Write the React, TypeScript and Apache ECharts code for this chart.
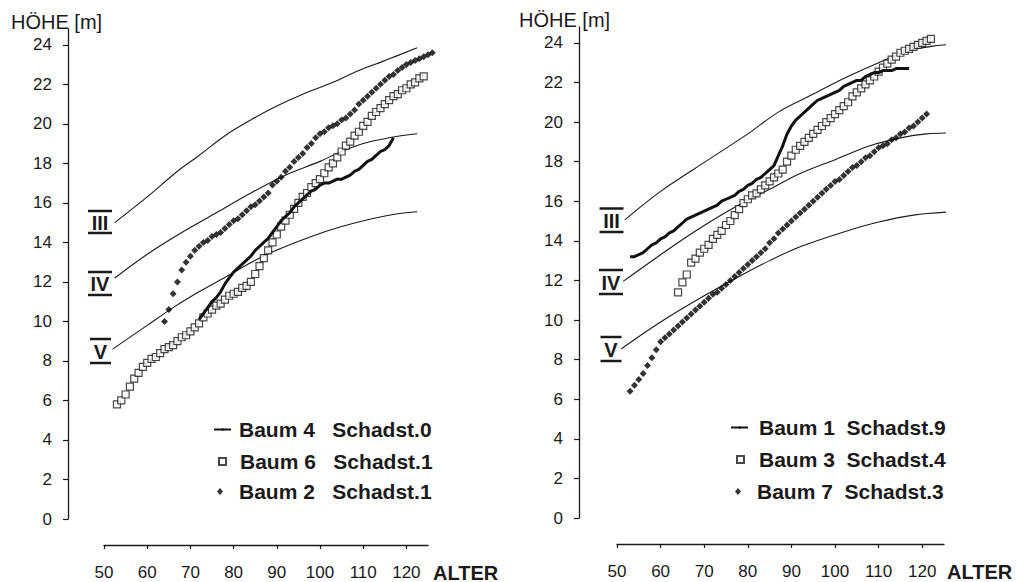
import React, { useEffect, useRef } from "react";
import * as echarts from "echarts";

// ---------- tick values ----------
const yTickValues = [0, 2, 4, 6, 8, 10, 12, 14, 16, 18, 20, 22, 24];
const xTickValues = [50, 60, 70, 80, 90, 100, 110, 120];

// ---------- left panel: site-index curves (age, height) ----------
const leftIII = [[52.5, 15.0], [60, 16.3], [67, 17.6], [72, 18.4], [78, 19.4], [84, 20.2], [90, 20.9], [96, 21.5], [103, 22.1], [109, 22.7], [115, 23.2], [122.5, 23.85]];
const leftIV = [[52.5, 12.2], [60, 13.4], [68, 14.5], [76, 15.5], [84, 16.5], [92, 17.4], [100, 18.1], [105, 18.6], [110, 19.0], [116, 19.3], [122.5, 19.5]];
const leftV = [[52, 8.6], [60, 9.8], [66, 10.7], [72, 11.5], [79, 12.35], [85, 13.1], [91, 13.7], [98, 14.3], [105, 14.8], [112, 15.2], [118, 15.45], [122.5, 15.55]];

// left panel trees: first age + yearly heights
const baum4Start = 72;
const baum4Heights = [10.1, 10.4, 10.7, 11.0, 11.2, 11.5, 11.9, 12.2, 12.5, 12.7, 12.9, 13.1, 13.3, 13.6, 13.8, 14.0, 14.2, 14.5, 14.8, 15.1, 15.3, 15.5, 15.8, 16.0, 16.2, 16.4, 16.6, 16.7, 16.9, 17.0, 17.0, 17.1, 17.2, 17.2, 17.3, 17.4, 17.6, 17.7, 17.9, 18.1, 18.2, 18.4, 18.6, 18.7, 18.9, 19.3];
const baum6Start = 53;
const baum6Heights = [5.8, 6.0, 6.3, 6.7, 7.1, 7.4, 7.7, 7.9, 8.1, 8.2, 8.4, 8.6, 8.7, 8.8, 9.0, 9.2, 9.3, 9.5, 9.7, 9.9, 10.2, 10.4, 10.6, 10.8, 10.9, 11.1, 11.3, 11.4, 11.5, 11.7, 11.8, 12.0, 12.4, 12.8, 13.2, 13.6, 14.0, 14.4, 14.8, 15.1, 15.4, 15.7, 16.0, 16.3, 16.5, 16.8, 17.0, 17.2, 17.5, 17.8, 18.0, 18.3, 18.6, 18.9, 19.1, 19.4, 19.6, 19.9, 20.1, 20.4, 20.6, 20.8, 21.0, 21.2, 21.4, 21.5, 21.7, 21.8, 22.0, 22.1, 22.3, 22.4];
const baum2Start = 64;
const baum2Heights = [10.0, 10.6, 11.4, 12.0, 12.6, 13.0, 13.3, 13.6, 13.8, 14.0, 14.1, 14.3, 14.4, 14.5, 14.7, 14.9, 15.1, 15.2, 15.4, 15.6, 15.8, 15.9, 16.1, 16.3, 16.5, 16.9, 17.1, 17.3, 17.6, 17.8, 18.1, 18.3, 18.5, 18.8, 19.0, 19.3, 19.5, 19.6, 19.8, 19.9, 20.0, 20.2, 20.3, 20.5, 20.7, 21.0, 21.2, 21.4, 21.6, 21.8, 22.0, 22.2, 22.4, 22.5, 22.7, 22.85, 23.0, 23.1, 23.2, 23.3, 23.4, 23.5, 23.6];

// ---------- right panel: site-index curves ----------
const rightIII = [[51.8, 15.06], [60, 16.5], [71, 18.1], [80, 19.4], [87, 20.5], [94, 21.3], [102, 22.2], [110, 23.0], [117, 23.6], [123, 23.85], [128.7, 23.95]];
const rightIV = [[51.4, 11.95], [60, 13.3], [68, 14.5], [77, 15.7], [85, 16.6], [92, 17.4], [100, 18.1], [108, 18.8], [115, 19.2], [121, 19.4], [127.5, 19.45]];
const rightV = [[51, 8.55], [60, 9.9], [69, 11.1], [78, 12.2], [85, 13.0], [92, 13.7], [102, 14.45], [110, 14.95], [118, 15.3], [126.4, 15.46]];

// right panel trees
const baum1Start = 53;
const baum1Heights = [13.2, 13.2, 13.3, 13.4, 13.6, 13.8, 13.9, 14.1, 14.2, 14.4, 14.5, 14.7, 14.9, 15.1, 15.2, 15.3, 15.4, 15.5, 15.6, 15.7, 15.8, 16.0, 16.1, 16.2, 16.3, 16.5, 16.6, 16.8, 16.9, 17.1, 17.2, 17.4, 17.6, 17.8, 18.3, 18.8, 19.4, 19.8, 20.1, 20.3, 20.5, 20.7, 20.9, 21.1, 21.2, 21.3, 21.4, 21.5, 21.6, 21.8, 21.9, 22.0, 22.1, 22.1, 22.3, 22.4, 22.5, 22.5, 22.6, 22.6, 22.6, 22.7, 22.7, 22.7, 22.7];
const baum3Start = 64;
const baum3Heights = [11.4, 11.9, 12.3, 12.9, 13.1, 13.4, 13.6, 13.8, 14.1, 14.3, 14.5, 14.8, 15.0, 15.3, 15.6, 15.9, 16.1, 16.3, 16.4, 16.6, 16.8, 17.0, 17.2, 17.4, 17.6, 18.0, 18.3, 18.6, 18.8, 19.0, 19.2, 19.4, 19.6, 19.8, 20.0, 20.2, 20.4, 20.6, 20.8, 21.0, 21.3, 21.5, 21.7, 21.9, 22.1, 22.3, 22.55, 22.75, 22.95, 23.15, 23.3, 23.5, 23.6, 23.7, 23.8, 23.9, 24.0, 24.1, 24.2];
const baum7Start = 53;
const baum7Heights = [6.4, 6.7, 7.0, 7.3, 7.7, 8.1, 8.5, 8.9, 9.1, 9.3, 9.5, 9.7, 9.9, 10.1, 10.3, 10.5, 10.7, 10.9, 11.1, 11.3, 11.4, 11.6, 11.8, 12.0, 12.2, 12.4, 12.6, 12.8, 13.0, 13.2, 13.4, 13.6, 13.9, 14.1, 14.4, 14.6, 14.8, 15.0, 15.2, 15.4, 15.6, 15.8, 16.0, 16.2, 16.4, 16.6, 16.8, 17.0, 17.1, 17.3, 17.5, 17.7, 17.8, 18.0, 18.2, 18.3, 18.5, 18.7, 18.8, 18.9, 19.1, 19.2, 19.4, 19.5, 19.7, 19.8, 20.0, 20.2, 20.4];

// legend names
const NB = "\u00a0";
const leftNames = [`Baum 4${NB}${NB}${NB}Schadst.0`, `Baum 6${NB}${NB}${NB}Schadst.1`, `Baum 2${NB}${NB}${NB}Schadst.1`];
const rightNames = [`Baum 1${NB}${NB}Schadst.9`, `Baum 3${NB}${NB}Schadst.4`, `Baum 7${NB}${NB}Schadst.3`];

const INK = "#1a1a1a";
const SANS = '"Liberation Sans", Arial, Helvetica, sans-serif';
const NARROW = '"Liberation Sans Narrow", "Liberation Sans", Arial, sans-serif';

const pairs = (start: number, hs: number[]) => hs.map((h, i) => [start + i, h]);

const X_MIN = 50, X_MAX = 125, Y_MIN = 0, Y_MAX = 24.8;

function siteSeries(name: string, data: number[][]) {
  return {
    type: "line", name, data, smooth: 0.35, symbol: "none",
    lineStyle: { color: INK, width: 1.1 }, clip: false, silent: true, z: 2,
  };
}
function lineTree(name: string, data: number[][]) {
  return {
    type: "line", name, data, symbol: "none",
    lineStyle: { color: "#111", width: 3 }, itemStyle: { color: "#111" }, clip: false, z: 4,
  };
}
function squareTree(name: string, data: number[][]) {
  return {
    type: "scatter", name, data, symbol: "rect", symbolSize: 7,
    itemStyle: { color: "#fff", borderColor: INK, borderWidth: 1.2 }, clip: false, z: 3,
  };
}
function diamondTree(name: string, data: number[][]) {
  return {
    type: "scatter", name, data, symbol: "diamond", symbolSize: [7, 7],
    itemStyle: { color: "#000" }, clip: false, z: 3,
  };
}

function legendItem(name: string, left: number, centerY: number, w: number, h: number, pad: number) {
  return {
    data: [name], left, top: centerY - 11, itemWidth: w, itemHeight: h, padding: 0, itemGap: 0,
    selectedMode: false,
    textStyle: { fontSize: 21, fontWeight: "bold", color: INK, fontFamily: SANS, padding: [0, 0, 0, pad] },
  };
}

function numeral(label: string, cx: number, cy: number, w: number, topBar: number, botBar: number) {
  return {
    type: "group", x: cx, y: cy,
    children: [
      { type: "rect", shape: { x: -w / 2, y: topBar - cy - 1.25, width: w, height: 2.5 }, style: { fill: INK } },
      { type: "rect", shape: { x: -w / 2, y: botBar - cy - 1.25, width: w, height: 2.5 }, style: { fill: INK } },
      { type: "text", x: 0, y: 0.5, style: { text: label, align: "center", verticalAlign: "middle", font: `bold 20px ${SANS}`, fill: INK } },
    ],
  };
}

interface PanelCfg {
  grid: { left: number; top: number; width: number; height: number };
  yOffset: number;
  legends: any[];
  graphic: any[];
  series: any[];
}

function panelOption(p: PanelCfg) {
  return {
    animation: false,
    backgroundColor: "#fff",
    grid: [{ ...p.grid, containLabel: false }],
    xAxis: [{
      type: "value", gridIndex: 0, min: X_MIN, max: X_MAX, position: "bottom", offset: 26,
      axisLine: { show: true, onZero: false, lineStyle: { color: INK, width: 1.3 } },
      axisTick: { show: true, length: 4, customValues: xTickValues, lineStyle: { color: INK, width: 1.2 } },
      axisLabel: { customValues: xTickValues, margin: 19, fontSize: 17, color: INK, fontFamily: SANS },
      splitLine: { show: false },
    }],
    yAxis: [{
      type: "value", gridIndex: 0, min: Y_MIN, max: Y_MAX, position: "left", offset: p.yOffset,
      axisLine: { show: true, onZero: false, lineStyle: { color: INK, width: 1.3 } },
      axisTick: { show: true, length: 5, customValues: yTickValues, lineStyle: { color: INK, width: 1.2 } },
      axisLabel: { customValues: yTickValues, margin: 16, fontSize: 17, color: INK, fontFamily: SANS },
      splitLine: { show: false },
    }],
    legend: p.legends,
    graphic: p.graphic,
    series: p.series,
  };
}

const leftPanel: PanelCfg = {
  grid: { left: 104, top: 29, width: 324, height: 490 },
  yOffset: 36,
  legends: [
    legendItem(leftNames[0], 213, 430, 17, 3, 3),
    legendItem(leftNames[1], 218, 462, 7, 7, 9),
    legendItem(leftNames[2], 217, 492, 6, 7, 11),
  ],
  graphic: [
    { type: "text", x: 11, y: 22, style: { text: "HÖHE [m]", font: `20px ${NARROW}`, fill: INK, verticalAlign: "middle" } },
    { type: "text", x: 433, y: 573, style: { text: "ALTER", font: `bold 20px ${SANS}`, fill: INK, verticalAlign: "middle" } },
    numeral("III", 100, 222, 24, 211, 233),
    numeral("IV", 100, 283, 24, 272, 295),
    numeral("V", 100.5, 351, 21, 339, 363),
  ],
  series: [
    siteSeries("III", leftIII),
    siteSeries("IV", leftIV),
    siteSeries("V", leftV),
    lineTree(leftNames[0], pairs(baum4Start, baum4Heights)),
    squareTree(leftNames[1], pairs(baum6Start, baum6Heights)),
    diamondTree(leftNames[2], pairs(baum2Start, baum2Heights)),
  ],
};

// right panel is drawn in its own 512px-wide chart starting at page x = 512
const rightPanel: PanelCfg = {
  grid: { left: 105, top: 27, width: 327, height: 491 },
  yOffset: 38,
  legends: [
    legendItem(rightNames[0], 218, 428, 17, 3, 6),
    legendItem(rightNames[1], 224, 460, 7, 7, 10),
    legendItem(rightNames[2], 223, 492, 6, 7, 11),
  ],
  graphic: [
    { type: "text", x: 7, y: 20, style: { text: "HÖHE [m]", font: `20px ${NARROW}`, fill: INK, verticalAlign: "middle" } },
    { type: "text", x: 435, y: 572, style: { text: "ALTER", font: `bold 20px ${SANS}`, fill: INK, verticalAlign: "middle" } },
    numeral("III", 99.5, 220, 24, 208.5, 232),
    numeral("IV", 99, 282, 24, 270, 294),
    numeral("V", 99, 349, 21, 337, 361),
  ],
  series: [
    siteSeries("III", rightIII),
    siteSeries("IV", rightIV),
    siteSeries("V", rightV),
    lineTree(rightNames[0], pairs(baum1Start, baum1Heights)),
    squareTree(rightNames[1], pairs(baum3Start, baum3Heights)),
    diamondTree(rightNames[2], pairs(baum7Start, baum7Heights)),
  ],
};

function Panel({ cfg, left }: { cfg: PanelCfg; left: number }) {
  const ref = useRef<HTMLDivElement>(null);
  useEffect(() => {
    if (!ref.current) return;
    const chart = echarts.init(ref.current, null, { renderer: "svg" });
    chart.setOption(panelOption(cfg));
    return () => chart.dispose();
  }, [cfg]);
  return <div ref={ref} style={{ position: "fixed", left, top: 0, width: 512, height: 582, background: "#fff" }} />;
}

export default function App() {
  return (
    <>
      <Panel cfg={leftPanel} left={0} />
      <Panel cfg={rightPanel} left={512} />
    </>
  );
}
